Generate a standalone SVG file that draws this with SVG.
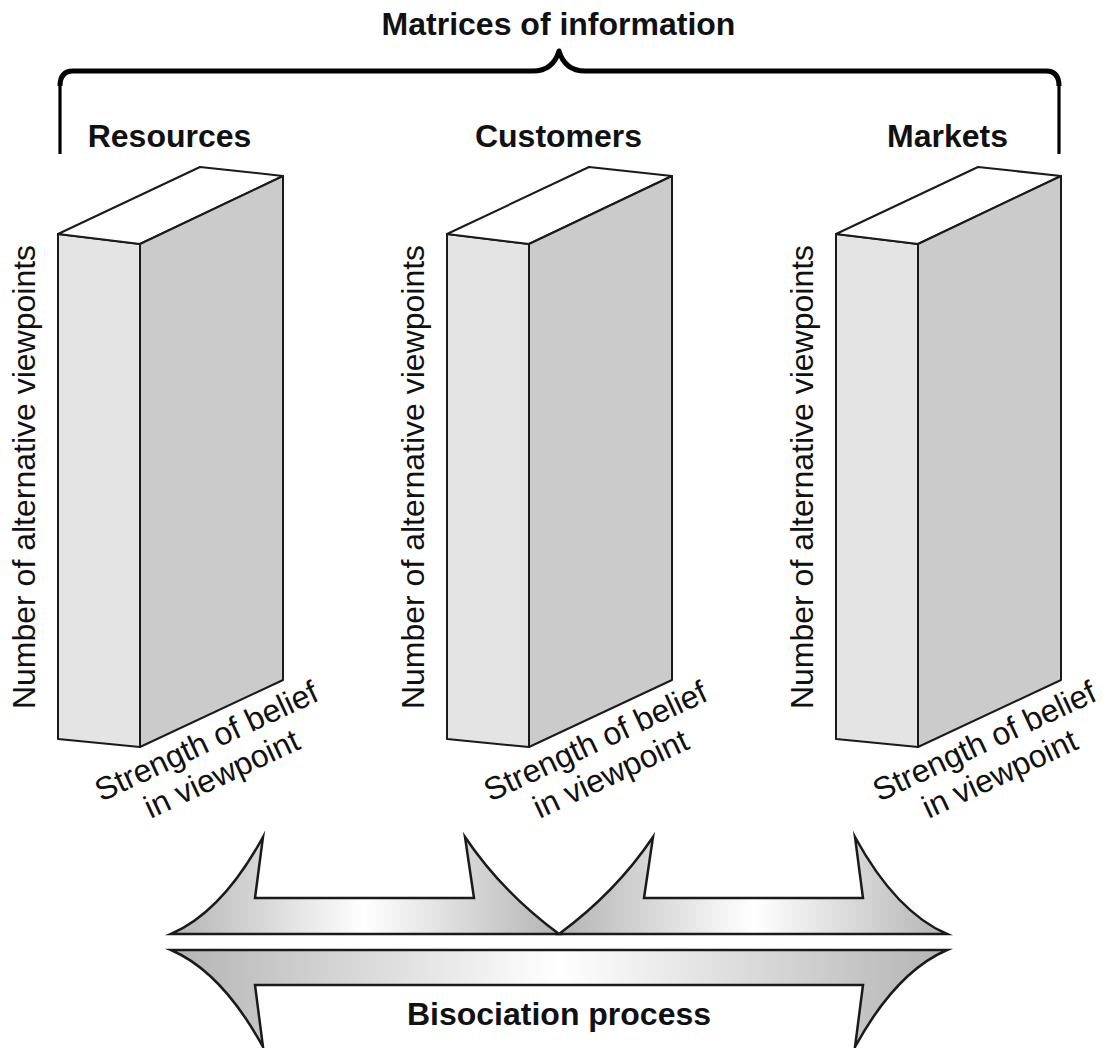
<svg xmlns="http://www.w3.org/2000/svg" width="1103" height="1048" viewBox="0 0 1103 1048">
  <style>
    text { font-family: "Liberation Sans", Arial, Helvetica, sans-serif; font-size: 32px; fill: #111; }
    .head { font-weight: bold; text-anchor: middle; }
    .axis { text-anchor: middle; }
    .edge { stroke: #1a1a1a; stroke-width: 2; stroke-linejoin: round; }
    .front { fill: #e4e4e4; }
    .side { fill: #cbcbcb; }
    .top { fill: #ffffff; }
    .brace { fill: none; stroke: #000; stroke-linejoin: round; stroke-linecap: butt; }
    .arrow { stroke: #1a1a1a; stroke-width: 2.5; stroke-linejoin: miter; stroke-miterlimit: 10; }
  </style>
  <defs>
    <linearGradient id="sheen" x1="0" y1="0" x2="1" y2="0">
      <stop offset="0" stop-color="#b4b4b4"/>
      <stop offset="0.5" stop-color="#ffffff"/>
      <stop offset="1" stop-color="#b4b4b4"/>
    </linearGradient>
    <!-- one information slab: front, top and side faces -->
    <g id="slab">
      <polygon class="front edge" points="58,234 140,244 140,747 58,739"/>
      <polygon class="top edge" points="58,234 200,167 283,176 140,244"/>
      <polygon class="side edge" points="140,244 283,176 283,680 140,747"/>
    </g>
  </defs>

  <rect width="1103" height="1048" fill="#ffffff"/>

  <!-- heading and grouping brace: heavy top bar, lighter legs -->
  <g id="matrices">
    <text class="head" x="558.5" y="35">Matrices of information</text>
    <path class="brace" stroke-width="3.2" d="M60,154 V84"/>
    <path class="brace" stroke-width="3.2" d="M1059,154 V84"/>
    <path class="brace" stroke-width="5" d="M60,86 Q60,71 73,71 H533 Q553,71 559,51 Q565,71 585,71 H1046 Q1059,71 1059,86"/>
  </g>

  <g id="resources">
    <text class="head" x="169.5" y="147">Resources</text>
    <use href="#slab"/>
    <text class="axis" transform="translate(35,477) rotate(-90)">Number of alternative viewpoints</text>
    <g transform="translate(211,751) rotate(-25)">
      <text class="axis" x="0" y="0">Strength of belief</text>
      <text class="axis" x="0" y="36">in viewpoint</text>
    </g>
  </g>

  <g id="customers" transform="translate(389,0)">
    <text class="head" x="169.5" y="147">Customers</text>
    <use href="#slab"/>
    <text class="axis" transform="translate(35,477) rotate(-90)">Number of alternative viewpoints</text>
    <g transform="translate(211,751) rotate(-25)">
      <text class="axis" x="0" y="0">Strength of belief</text>
      <text class="axis" x="0" y="36">in viewpoint</text>
    </g>
  </g>

  <g id="markets" transform="translate(778,0)">
    <text class="head" x="169.5" y="147">Markets</text>
    <use href="#slab"/>
    <text class="axis" transform="translate(35,477) rotate(-90)">Number of alternative viewpoints</text>
    <g transform="translate(211,751) rotate(-25)">
      <text class="axis" x="0" y="0">Strength of belief</text>
      <text class="axis" x="0" y="36">in viewpoint</text>
    </g>
  </g>

  <!-- bisociation arrows -->
  <g id="connectors">
    <path class="arrow" fill="url(#sheen)" d="M171,934 Q222,912 263,837 L255,898 L474,898 L465,837 Q502,892 559,934 Z"/>
    <path class="arrow" fill="url(#sheen)" d="M559,934 Q616,892 653,837 L644,898 L863,898 L855,837 Q896,912 947,934 Z"/>
    <path class="arrow" fill="url(#sheen)" d="M171,950 L947,950 Q896,972 855,1047 L863,985 L255,985 L263,1047 Q222,972 171,950 Z"/>
    <text class="head" x="559" y="1025">Bisociation process</text>
  </g>
</svg>
